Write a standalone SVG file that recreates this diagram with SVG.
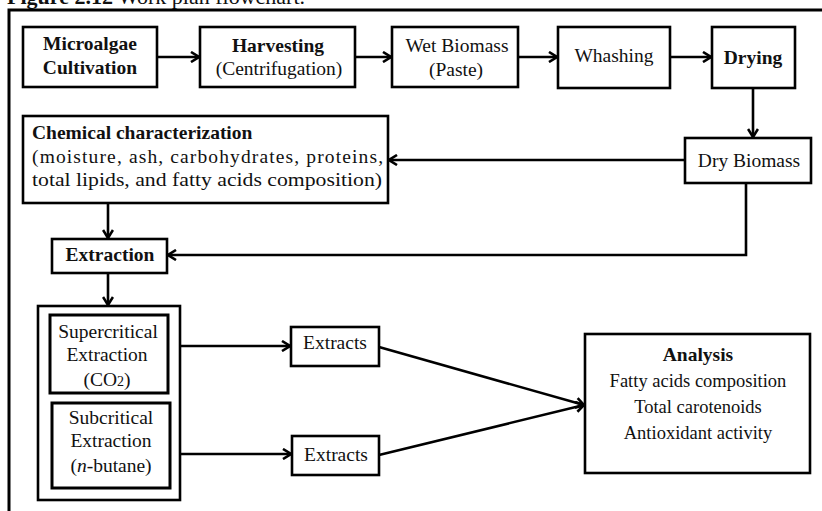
<svg xmlns="http://www.w3.org/2000/svg" width="822" height="511" viewBox="0 0 822 511">
<defs>
<marker id="arr" viewBox="0 0 10 12" refX="9" refY="6" markerWidth="10" markerHeight="12" markerUnits="userSpaceOnUse" orient="auto">
<path d="M1,1 L9,6 L1,11" fill="none" stroke="#000" stroke-width="2.6"/>
</marker>
<style>
.box{fill:#fff;stroke:#000;stroke-width:2.6}
.t{font-family:"Liberation Serif","Times New Roman",serif;font-size:19.5px;fill:#111;text-anchor:middle}
.b{font-weight:bold}
.l{text-anchor:start}
.a{font-size:18.5px}
.c{fill:none;stroke:#000;stroke-width:2.6}
</style>
</defs>
<rect width="822" height="511" fill="#fff"/>
<text x="7" y="4" class="t l" style="font-size:22px"><tspan font-weight="bold">Figure 2.12</tspan> Work plan flowchart.</text>
<path d="M9,511 V10 H830" fill="none" stroke="#000" stroke-width="3"/>

<g id="connectors">
<line class="c" x1="157" y1="57" x2="199" y2="57" marker-end="url(#arr)"/>
<line class="c" x1="355" y1="57" x2="391" y2="57" marker-end="url(#arr)"/>
<line class="c" x1="518" y1="57" x2="557" y2="57" marker-end="url(#arr)"/>
<line class="c" x1="670" y1="57" x2="711" y2="57" marker-end="url(#arr)"/>
<line class="c" x1="753" y1="88" x2="753" y2="137" marker-end="url(#arr)"/>
<line class="c" x1="685" y1="160" x2="389" y2="160" marker-end="url(#arr)"/>
<line class="c" x1="108" y1="203" x2="108" y2="238" marker-end="url(#arr)"/>
<polyline class="c" points="746,183 746,255 168,255" marker-end="url(#arr)"/>
<line class="c" x1="108" y1="273" x2="108" y2="305" marker-end="url(#arr)"/>
<line class="c" x1="180" y1="346" x2="290" y2="346" marker-end="url(#arr)"/>
<line class="c" x1="180" y1="454" x2="291" y2="454" marker-end="url(#arr)"/>
<line class="c" x1="379" y1="347" x2="584" y2="405" marker-end="url(#arr)"/>
<line class="c" x1="379" y1="455" x2="584" y2="405" marker-end="url(#arr)"/>
</g>

<g id="cultivation">
<rect class="box" x="23" y="27" width="134" height="60"/>
<text class="t b" x="90" y="50">Microalgae</text>
<text class="t b" x="90" y="74">Cultivation</text>
</g>
<g id="harvesting">
<rect class="box" x="200" y="27" width="155" height="60"/>
<text class="t b" x="278" y="52">Harvesting</text>
<text class="t" x="279" y="75">(Centrifugation)</text>
</g>
<g id="wet-biomass">
<rect class="box" x="392" y="27" width="126" height="60"/>
<text class="t" x="457" y="52">Wet Biomass</text>
<text class="t" x="456" y="76">(Paste)</text>
</g>
<g id="washing">
<rect class="box" x="558" y="27" width="112" height="61"/>
<text class="t" x="614" y="62">Whashing</text>
</g>
<g id="drying">
<rect class="box" x="712" y="27" width="83" height="61"/>
<text class="t b" x="753" y="64">Drying</text>
</g>
<g id="dry-biomass">
<rect class="box" x="685" y="138" width="126" height="45"/>
<text class="t" x="749" y="167">Dry Biomass</text>
</g>
<g id="chemical">
<rect class="box" x="23" y="116" width="365" height="87"/>
<text class="t b l" x="32" y="139">Chemical characterization</text>
<text class="t l" x="32" y="163" textLength="351" lengthAdjust="spacing">(moisture, ash, carbohydrates, proteins,</text>
<text class="t l" x="32" y="186" textLength="350" lengthAdjust="spacingAndGlyphs">total lipids, and fatty acids composition)</text>
</g>
<g id="extraction">
<rect class="box" x="52" y="239" width="115" height="34"/>
<text class="t b" x="110" y="261">Extraction</text>
</g>
<g id="extraction-methods">
<rect class="box" x="38" y="306" width="142" height="194"/>
<g id="supercritical">
<rect class="box" x="50" y="315" width="118" height="78" style="stroke-width:3"/>
<text class="t" x="108" y="338">Supercritical</text>
<text class="t" x="107" y="361">Extraction</text>
<text class="t" x="107" y="386">(CO<tspan font-size="14">2</tspan>)</text>
</g>
<g id="subcritical">
<rect class="box" x="52" y="403" width="118" height="85" style="stroke-width:3"/>
<text class="t" x="111" y="424">Subcritical</text>
<text class="t" x="111" y="447">Extraction</text>
<text class="t" x="111" y="472">(<tspan font-style="italic">n</tspan>-butane)</text>
</g>
</g>
<g id="extracts-1">
<rect class="box" x="291" y="327" width="88" height="39"/>
<text class="t" x="335" y="349">Extracts</text>
</g>
<g id="extracts-2">
<rect class="box" x="292" y="436" width="87" height="39"/>
<text class="t" x="336" y="461">Extracts</text>
</g>
<g id="analysis">
<rect class="box" x="585" y="334" width="225" height="139"/>
<text class="t b" x="698" y="361">Analysis</text>
<text class="t a" x="698" y="387">Fatty acids composition</text>
<text class="t a" x="698" y="413">Total carotenoids</text>
<text class="t a" x="698" y="439">Antioxidant activity</text>
</g>
</svg>
